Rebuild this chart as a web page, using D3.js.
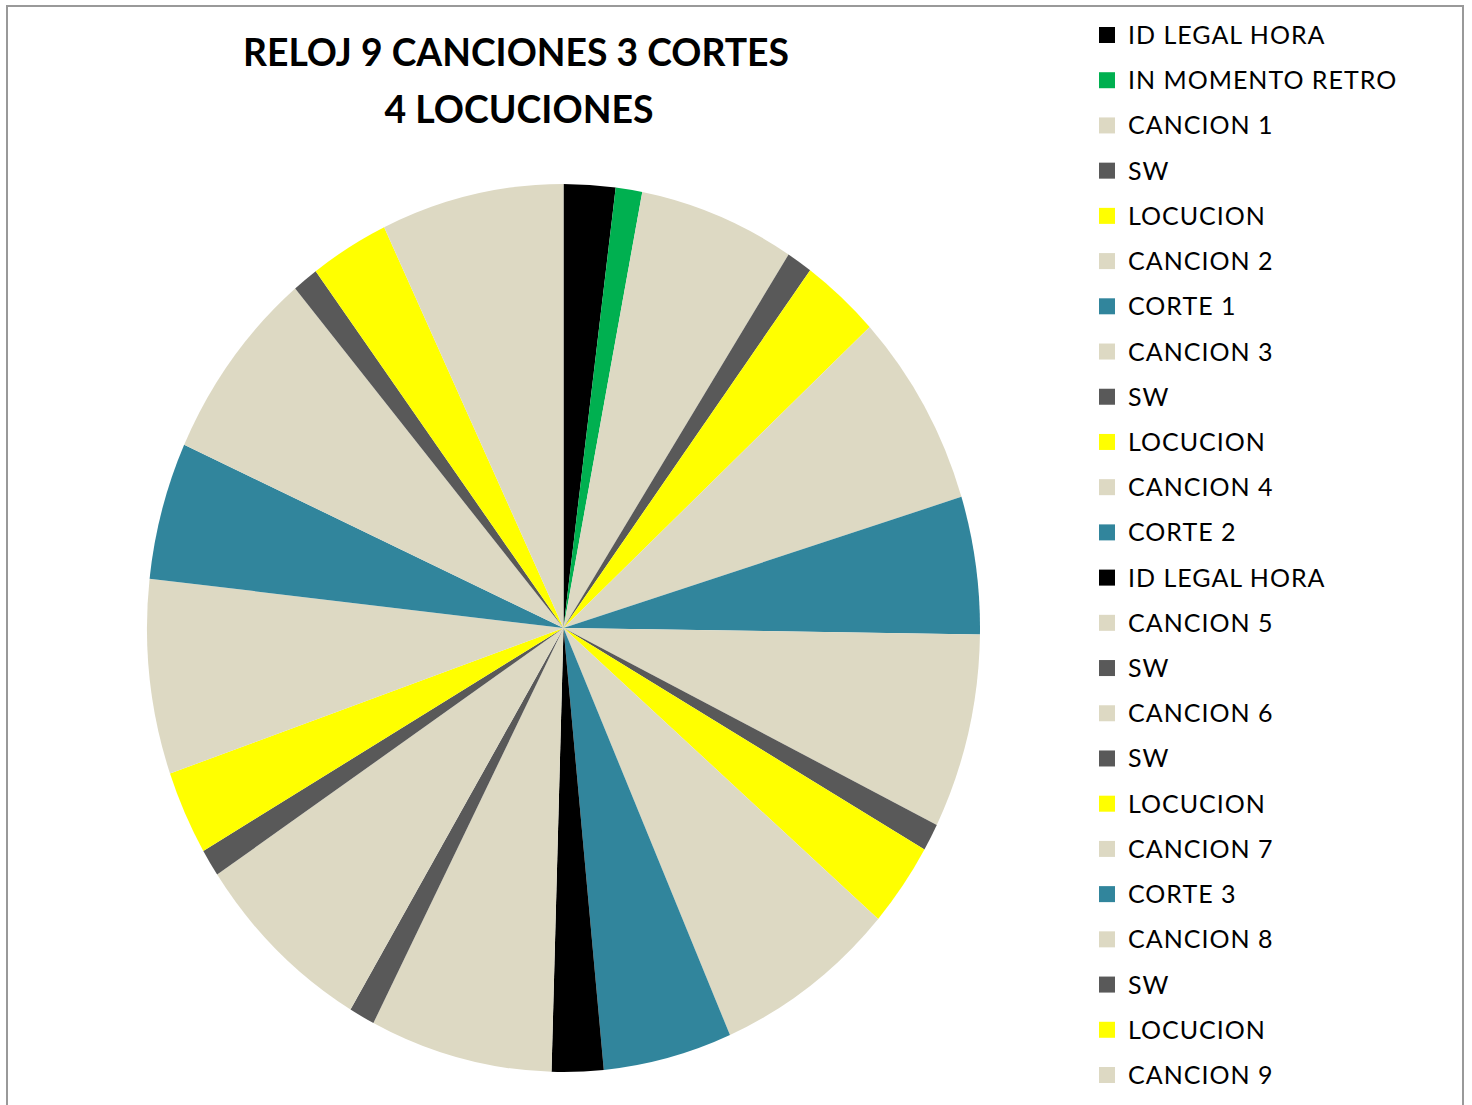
<!DOCTYPE html>
<html>
<head>
<meta charset="utf-8">
<script src="https://cdn.jsdelivr.net/npm/d3@7"></script>
<style>
  html, body { margin: 0; padding: 0; background: #ffffff; }
  svg { display: block; }
</style>
</head>
<body>
<svg id="chart" width="1472" height="1105"></svg>
<script>
// ---- data ----
const titleLines = ["RELOJ 9 CANCIONES 3 CORTES", "4 LOCUCIONES"];
const categories = [
  "ID LEGAL HORA", "IN MOMENTO RETRO", "CANCION 1", "SW", "LOCUCION", "CANCION 2",
  "CORTE 1", "CANCION 3", "SW", "LOCUCION", "CANCION 4", "CORTE 2",
  "ID LEGAL HORA", "CANCION 5", "SW", "CANCION 6", "SW", "LOCUCION",
  "CANCION 7", "CORTE 3", "CANCION 8", "SW", "LOCUCION", "CANCION 9"
];
// durations (seconds)
const durations = [
  72, 37, 218, 36, 110, 255,
  180, 255, 36, 110, 255, 180,
  72, 255, 36, 255, 36, 110,
  255, 180, 255, 36, 110, 255
];
const kinds = [
  "id", "retro", "cancion", "sw", "locucion", "cancion",
  "corte", "cancion", "sw", "locucion", "cancion", "corte",
  "id", "cancion", "sw", "cancion", "sw", "locucion",
  "cancion", "corte", "cancion", "sw", "locucion", "cancion"
];
const kindColors = {
  id: "#000000", retro: "#00B050", cancion: "#DDD9C3",
  sw: "#595959", locucion: "#FFFF00", corte: "#31859C"
};

// ---- drawing ----
const svg = d3.select("#chart");

svg.append("rect")
  .attr("x", 7).attr("y", 6)
  .attr("width", 1456).attr("height", 1120)
  .attr("fill", "#ffffff")
  .attr("stroke", "#999999").attr("stroke-width", 2);

// title
const title = svg.append("g")
  .attr("font-family", "Lato, 'Open Sans', sans-serif")
  .attr("font-weight", "bold")
  .attr("font-size", 39)
  .attr("fill", "#000000");
const titleX = [516, 519], titleY = [66, 123], titleW = [546, 269];
titleLines.forEach((t, i) => {
  title.append("text")
    .attr("x", titleX[i]).attr("y", titleY[i])
    .attr("text-anchor", "middle")
    .attr("textLength", titleW[i])
    .attr("lengthAdjust", "spacingAndGlyphs")
    .text(t);
});

// pie
const cx = 563.5, cy = 628, rx = 416.5, ry = 444;
const pie = d3.pie().sort(null).value(d => d.v).startAngle(0).endAngle(2 * Math.PI);
const data = categories.map((c, i) => ({ c, v: durations[i], k: kinds[i] }));
const arc = d3.arc().innerRadius(0).outerRadius(rx);

svg.append("g")
  .attr("transform", `translate(${cx},${cy}) scale(1,${ry / rx})`)
  .selectAll("path")
  .data(pie(data))
  .join("path")
  .attr("d", arc)
  .attr("fill", d => kindColors[d.data.k]);

// legend
const y0 = 35, step = (1075 - 35) / (categories.length - 1);
const legend = svg.append("g")
  .attr("font-family", "Lato, 'Open Sans', sans-serif")
  .attr("font-size", 25)
  .attr("fill", "#000000");
const items = legend.selectAll("g")
  .data(data)
  .join("g")
  .attr("transform", (d, i) => `translate(1099,${y0 + i * step})`);
items.append("rect")
  .attr("x", 0).attr("y", -8)
  .attr("width", 16).attr("height", 16)
  .attr("fill", d => kindColors[d.k]);
items.append("text")
  .attr("x", 29).attr("y", 9)
  .attr("letter-spacing", 1.0)
  .text(d => d.c);
</script>
</body>
</html>
